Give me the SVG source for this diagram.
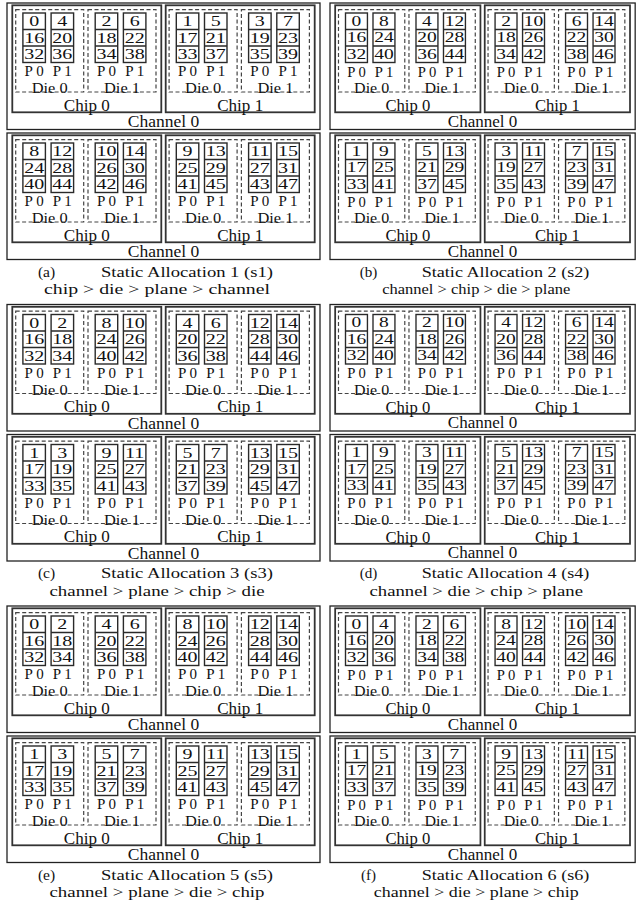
<svg xmlns="http://www.w3.org/2000/svg" width="637" height="907" viewBox="0 0 637 907">
<style>
text{font-family:"Liberation Serif","Times New Roman",serif;text-anchor:middle;dominant-baseline:central;fill:#111;font-size:16px}
.n text{font-size:14.8px}
.p{font-size:15px}
.d{font-size:15px}
.c{font-size:16px}
.h{font-size:17.5px}
.cap{font-size:15.5px}
.chan{fill:none;stroke:#222;stroke-width:1.3}
.chip{fill:none;stroke:#333;stroke-width:1.8}
.die{fill:none;stroke:#444;stroke-width:1.2;stroke-dasharray:4 2.5}
.cell{fill:none;stroke:#2a2a2a;stroke-width:1.4}
</style>
<defs>
<g id="pl" class="cell"><rect width="22.5" height="49.5"/><path d="M0 16.5h22.5M0 33h22.5"/></g>
<rect id="db" class="die" width="68" height="82.4"/>
<rect id="cb" class="chip" width="149" height="107"/>
</defs>

<g id="panel-a" transform="translate(7,3)">
<g id="a-ch1"><rect class="chan" width="313" height="126.5"/>
<g id="a1-chip0" transform="translate(5.3,2.3)"><use href="#cb"/>
<g id="a1-c0-d0" transform="translate(3.4,4.3)"><use href="#db"/><use href="#pl" x="7.2" y="3.4"/><use href="#pl" x="35.4" y="3.4"/><g class="n" transform="scale(1.35,1)"><text x="13.67" y="11.65">0</text><text x="13.67" y="28.15">16</text><text x="13.67" y="44.65">32</text><text x="34.56" y="11.65">4</text><text x="34.56" y="28.15">20</text><text x="34.56" y="44.65">36</text></g><text class="p" x="18.45" y="61.9">P 0</text><text class="p" x="46.65" y="61.9">P 1</text><text class="d" x="34" y="78.6" textLength="36" lengthAdjust="spacingAndGlyphs">Die 0</text></g>
<g id="a1-c0-d1" transform="translate(75.7,4.3)"><use href="#db"/><use href="#pl" x="7.2" y="3.4"/><use href="#pl" x="35.4" y="3.4"/><g class="n" transform="scale(1.35,1)"><text x="13.67" y="11.65">2</text><text x="13.67" y="28.15">18</text><text x="13.67" y="44.65">34</text><text x="34.56" y="11.65">6</text><text x="34.56" y="28.15">22</text><text x="34.56" y="44.65">38</text></g><text class="p" x="18.45" y="61.9">P 0</text><text class="p" x="46.65" y="61.9">P 1</text><text class="d" x="34" y="78.6" textLength="36" lengthAdjust="spacingAndGlyphs">Die 1</text></g>
<text class="c" x="74.5" y="100.2" textLength="46" lengthAdjust="spacingAndGlyphs">Chip 0</text></g>
<g id="a1-chip1" transform="translate(158.7,2.3)"><use href="#cb"/>
<g id="a1-c1-d0" transform="translate(3.4,4.3)"><use href="#db"/><use href="#pl" x="7.2" y="3.4"/><use href="#pl" x="35.4" y="3.4"/><g class="n" transform="scale(1.35,1)"><text x="13.67" y="11.65">1</text><text x="13.67" y="28.15">17</text><text x="13.67" y="44.65">33</text><text x="34.56" y="11.65">5</text><text x="34.56" y="28.15">21</text><text x="34.56" y="44.65">37</text></g><text class="p" x="18.45" y="61.9">P 0</text><text class="p" x="46.65" y="61.9">P 1</text><text class="d" x="34" y="78.6" textLength="36" lengthAdjust="spacingAndGlyphs">Die 0</text></g>
<g id="a1-c1-d1" transform="translate(75.7,4.3)"><use href="#db"/><use href="#pl" x="7.2" y="3.4"/><use href="#pl" x="35.4" y="3.4"/><g class="n" transform="scale(1.35,1)"><text x="13.67" y="11.65">3</text><text x="13.67" y="28.15">19</text><text x="13.67" y="44.65">35</text><text x="34.56" y="11.65">7</text><text x="34.56" y="28.15">23</text><text x="34.56" y="44.65">39</text></g><text class="p" x="18.45" y="61.9">P 0</text><text class="p" x="46.65" y="61.9">P 1</text><text class="d" x="34" y="78.6" textLength="36" lengthAdjust="spacingAndGlyphs">Die 1</text></g>
<text class="c" x="74.5" y="100.2" textLength="46" lengthAdjust="spacingAndGlyphs">Chip 1</text></g>
<text class="h" x="156.5" y="118.3">Channel 0</text></g>
<g id="a-ch2" transform="translate(0,130)"><rect class="chan" width="313" height="126.5"/>
<g id="a2-chip0" transform="translate(5.3,2.3)"><use href="#cb"/>
<g id="a2-c0-d0" transform="translate(3.4,4.3)"><use href="#db"/><use href="#pl" x="7.2" y="3.4"/><use href="#pl" x="35.4" y="3.4"/><g class="n" transform="scale(1.35,1)"><text x="13.67" y="11.65">8</text><text x="13.67" y="28.15">24</text><text x="13.67" y="44.65">40</text><text x="34.56" y="11.65">12</text><text x="34.56" y="28.15">28</text><text x="34.56" y="44.65">44</text></g><text class="p" x="18.45" y="61.9">P 0</text><text class="p" x="46.65" y="61.9">P 1</text><text class="d" x="34" y="78.6" textLength="36" lengthAdjust="spacingAndGlyphs">Die 0</text></g>
<g id="a2-c0-d1" transform="translate(75.7,4.3)"><use href="#db"/><use href="#pl" x="7.2" y="3.4"/><use href="#pl" x="35.4" y="3.4"/><g class="n" transform="scale(1.35,1)"><text x="13.67" y="11.65">10</text><text x="13.67" y="28.15">26</text><text x="13.67" y="44.65">42</text><text x="34.56" y="11.65">14</text><text x="34.56" y="28.15">30</text><text x="34.56" y="44.65">46</text></g><text class="p" x="18.45" y="61.9">P 0</text><text class="p" x="46.65" y="61.9">P 1</text><text class="d" x="34" y="78.6" textLength="36" lengthAdjust="spacingAndGlyphs">Die 1</text></g>
<text class="c" x="74.5" y="100.2" textLength="46" lengthAdjust="spacingAndGlyphs">Chip 0</text></g>
<g id="a2-chip1" transform="translate(158.7,2.3)"><use href="#cb"/>
<g id="a2-c1-d0" transform="translate(3.4,4.3)"><use href="#db"/><use href="#pl" x="7.2" y="3.4"/><use href="#pl" x="35.4" y="3.4"/><g class="n" transform="scale(1.35,1)"><text x="13.67" y="11.65">9</text><text x="13.67" y="28.15">25</text><text x="13.67" y="44.65">41</text><text x="34.56" y="11.65">13</text><text x="34.56" y="28.15">29</text><text x="34.56" y="44.65">45</text></g><text class="p" x="18.45" y="61.9">P 0</text><text class="p" x="46.65" y="61.9">P 1</text><text class="d" x="34" y="78.6" textLength="36" lengthAdjust="spacingAndGlyphs">Die 0</text></g>
<g id="a2-c1-d1" transform="translate(75.7,4.3)"><use href="#db"/><use href="#pl" x="7.2" y="3.4"/><use href="#pl" x="35.4" y="3.4"/><g class="n" transform="scale(1.35,1)"><text x="13.67" y="11.65">11</text><text x="13.67" y="28.15">27</text><text x="13.67" y="44.65">43</text><text x="34.56" y="11.65">15</text><text x="34.56" y="28.15">31</text><text x="34.56" y="44.65">47</text></g><text class="p" x="18.45" y="61.9">P 0</text><text class="p" x="46.65" y="61.9">P 1</text><text class="d" x="34" y="78.6" textLength="36" lengthAdjust="spacingAndGlyphs">Die 1</text></g>
<text class="c" x="74.5" y="100.2" textLength="46" lengthAdjust="spacingAndGlyphs">Chip 1</text></g>
<text class="h" x="156.5" y="118.3">Channel 0</text></g>
<text class="cap" x="39.5" y="268.4">(a)</text>
<text class="cap" x="180" y="268.4" textLength="172" lengthAdjust="spacingAndGlyphs">Static Allocation 1 (s1)</text>
<text class="cap" x="150" y="285.6" textLength="226" lengthAdjust="spacingAndGlyphs">chip &gt; die &gt; plane &gt; channel</text>
</g>

<g id="panel-b" transform="translate(330,3) scale(0.975,1)">
<g id="b-ch1"><rect class="chan" width="313" height="126.5"/>
<g id="b1-chip0" transform="translate(5.3,2.3)"><use href="#cb"/>
<g id="b1-c0-d0" transform="translate(3.4,4.3)"><use href="#db"/><use href="#pl" x="7.2" y="3.4"/><use href="#pl" x="35.4" y="3.4"/><g class="n" transform="scale(1.35,1)"><text x="13.67" y="11.65">0</text><text x="13.67" y="28.15">16</text><text x="13.67" y="44.65">32</text><text x="34.56" y="11.65">8</text><text x="34.56" y="28.15">24</text><text x="34.56" y="44.65">40</text></g><text class="p" x="18.45" y="61.9">P 0</text><text class="p" x="46.65" y="61.9">P 1</text><text class="d" x="34" y="78.6" textLength="36" lengthAdjust="spacingAndGlyphs">Die 0</text></g>
<g id="b1-c0-d1" transform="translate(75.7,4.3)"><use href="#db"/><use href="#pl" x="7.2" y="3.4"/><use href="#pl" x="35.4" y="3.4"/><g class="n" transform="scale(1.35,1)"><text x="13.67" y="11.65">4</text><text x="13.67" y="28.15">20</text><text x="13.67" y="44.65">36</text><text x="34.56" y="11.65">12</text><text x="34.56" y="28.15">28</text><text x="34.56" y="44.65">44</text></g><text class="p" x="18.45" y="61.9">P 0</text><text class="p" x="46.65" y="61.9">P 1</text><text class="d" x="34" y="78.6" textLength="36" lengthAdjust="spacingAndGlyphs">Die 1</text></g>
<text class="c" x="74.5" y="100.2" textLength="46" lengthAdjust="spacingAndGlyphs">Chip 0</text></g>
<g id="b1-chip1" transform="translate(158.7,2.3)"><use href="#cb"/>
<g id="b1-c1-d0" transform="translate(3.4,4.3)"><use href="#db"/><use href="#pl" x="7.2" y="3.4"/><use href="#pl" x="35.4" y="3.4"/><g class="n" transform="scale(1.35,1)"><text x="13.67" y="11.65">2</text><text x="13.67" y="28.15">18</text><text x="13.67" y="44.65">34</text><text x="34.56" y="11.65">10</text><text x="34.56" y="28.15">26</text><text x="34.56" y="44.65">42</text></g><text class="p" x="18.45" y="61.9">P 0</text><text class="p" x="46.65" y="61.9">P 1</text><text class="d" x="34" y="78.6" textLength="36" lengthAdjust="spacingAndGlyphs">Die 0</text></g>
<g id="b1-c1-d1" transform="translate(75.7,4.3)"><use href="#db"/><use href="#pl" x="7.2" y="3.4"/><use href="#pl" x="35.4" y="3.4"/><g class="n" transform="scale(1.35,1)"><text x="13.67" y="11.65">6</text><text x="13.67" y="28.15">22</text><text x="13.67" y="44.65">38</text><text x="34.56" y="11.65">14</text><text x="34.56" y="28.15">30</text><text x="34.56" y="44.65">46</text></g><text class="p" x="18.45" y="61.9">P 0</text><text class="p" x="46.65" y="61.9">P 1</text><text class="d" x="34" y="78.6" textLength="36" lengthAdjust="spacingAndGlyphs">Die 1</text></g>
<text class="c" x="74.5" y="100.2" textLength="46" lengthAdjust="spacingAndGlyphs">Chip 1</text></g>
<text class="h" x="156.5" y="118.3">Channel 0</text></g>
<g id="b-ch2" transform="translate(0,130)"><rect class="chan" width="313" height="126.5"/>
<g id="b2-chip0" transform="translate(5.3,2.3)"><use href="#cb"/>
<g id="b2-c0-d0" transform="translate(3.4,4.3)"><use href="#db"/><use href="#pl" x="7.2" y="3.4"/><use href="#pl" x="35.4" y="3.4"/><g class="n" transform="scale(1.35,1)"><text x="13.67" y="11.65">1</text><text x="13.67" y="28.15">17</text><text x="13.67" y="44.65">33</text><text x="34.56" y="11.65">9</text><text x="34.56" y="28.15">25</text><text x="34.56" y="44.65">41</text></g><text class="p" x="18.45" y="61.9">P 0</text><text class="p" x="46.65" y="61.9">P 1</text><text class="d" x="34" y="78.6" textLength="36" lengthAdjust="spacingAndGlyphs">Die 0</text></g>
<g id="b2-c0-d1" transform="translate(75.7,4.3)"><use href="#db"/><use href="#pl" x="7.2" y="3.4"/><use href="#pl" x="35.4" y="3.4"/><g class="n" transform="scale(1.35,1)"><text x="13.67" y="11.65">5</text><text x="13.67" y="28.15">21</text><text x="13.67" y="44.65">37</text><text x="34.56" y="11.65">13</text><text x="34.56" y="28.15">29</text><text x="34.56" y="44.65">45</text></g><text class="p" x="18.45" y="61.9">P 0</text><text class="p" x="46.65" y="61.9">P 1</text><text class="d" x="34" y="78.6" textLength="36" lengthAdjust="spacingAndGlyphs">Die 1</text></g>
<text class="c" x="74.5" y="100.2" textLength="46" lengthAdjust="spacingAndGlyphs">Chip 0</text></g>
<g id="b2-chip1" transform="translate(158.7,2.3)"><use href="#cb"/>
<g id="b2-c1-d0" transform="translate(3.4,4.3)"><use href="#db"/><use href="#pl" x="7.2" y="3.4"/><use href="#pl" x="35.4" y="3.4"/><g class="n" transform="scale(1.35,1)"><text x="13.67" y="11.65">3</text><text x="13.67" y="28.15">19</text><text x="13.67" y="44.65">35</text><text x="34.56" y="11.65">11</text><text x="34.56" y="28.15">27</text><text x="34.56" y="44.65">43</text></g><text class="p" x="18.45" y="61.9">P 0</text><text class="p" x="46.65" y="61.9">P 1</text><text class="d" x="34" y="78.6" textLength="36" lengthAdjust="spacingAndGlyphs">Die 0</text></g>
<g id="b2-c1-d1" transform="translate(75.7,4.3)"><use href="#db"/><use href="#pl" x="7.2" y="3.4"/><use href="#pl" x="35.4" y="3.4"/><g class="n" transform="scale(1.35,1)"><text x="13.67" y="11.65">7</text><text x="13.67" y="28.15">23</text><text x="13.67" y="44.65">39</text><text x="34.56" y="11.65">15</text><text x="34.56" y="28.15">31</text><text x="34.56" y="44.65">47</text></g><text class="p" x="18.45" y="61.9">P 0</text><text class="p" x="46.65" y="61.9">P 1</text><text class="d" x="34" y="78.6" textLength="36" lengthAdjust="spacingAndGlyphs">Die 1</text></g>
<text class="c" x="74.5" y="100.2" textLength="46" lengthAdjust="spacingAndGlyphs">Chip 1</text></g>
<text class="h" x="156.5" y="118.3">Channel 0</text></g>
<text class="cap" x="39.5" y="268.4">(b)</text>
<text class="cap" x="180" y="268.4" textLength="172" lengthAdjust="spacingAndGlyphs">Static Allocation 2 (s2)</text>
<text class="cap" x="150" y="285.6" textLength="193" lengthAdjust="spacingAndGlyphs">channel &gt; chip &gt; die &gt; plane</text>
</g>

<g id="panel-c" transform="translate(7,304.5)">
<g id="c-ch1"><rect class="chan" width="313" height="126.5"/>
<g id="c1-chip0" transform="translate(5.3,2.3)"><use href="#cb"/>
<g id="c1-c0-d0" transform="translate(3.4,4.3)"><use href="#db"/><use href="#pl" x="7.2" y="3.4"/><use href="#pl" x="35.4" y="3.4"/><g class="n" transform="scale(1.35,1)"><text x="13.67" y="11.65">0</text><text x="13.67" y="28.15">16</text><text x="13.67" y="44.65">32</text><text x="34.56" y="11.65">2</text><text x="34.56" y="28.15">18</text><text x="34.56" y="44.65">34</text></g><text class="p" x="18.45" y="61.9">P 0</text><text class="p" x="46.65" y="61.9">P 1</text><text class="d" x="34" y="78.6" textLength="36" lengthAdjust="spacingAndGlyphs">Die 0</text></g>
<g id="c1-c0-d1" transform="translate(75.7,4.3)"><use href="#db"/><use href="#pl" x="7.2" y="3.4"/><use href="#pl" x="35.4" y="3.4"/><g class="n" transform="scale(1.35,1)"><text x="13.67" y="11.65">8</text><text x="13.67" y="28.15">24</text><text x="13.67" y="44.65">40</text><text x="34.56" y="11.65">10</text><text x="34.56" y="28.15">26</text><text x="34.56" y="44.65">42</text></g><text class="p" x="18.45" y="61.9">P 0</text><text class="p" x="46.65" y="61.9">P 1</text><text class="d" x="34" y="78.6" textLength="36" lengthAdjust="spacingAndGlyphs">Die 1</text></g>
<text class="c" x="74.5" y="100.2" textLength="46" lengthAdjust="spacingAndGlyphs">Chip 0</text></g>
<g id="c1-chip1" transform="translate(158.7,2.3)"><use href="#cb"/>
<g id="c1-c1-d0" transform="translate(3.4,4.3)"><use href="#db"/><use href="#pl" x="7.2" y="3.4"/><use href="#pl" x="35.4" y="3.4"/><g class="n" transform="scale(1.35,1)"><text x="13.67" y="11.65">4</text><text x="13.67" y="28.15">20</text><text x="13.67" y="44.65">36</text><text x="34.56" y="11.65">6</text><text x="34.56" y="28.15">22</text><text x="34.56" y="44.65">38</text></g><text class="p" x="18.45" y="61.9">P 0</text><text class="p" x="46.65" y="61.9">P 1</text><text class="d" x="34" y="78.6" textLength="36" lengthAdjust="spacingAndGlyphs">Die 0</text></g>
<g id="c1-c1-d1" transform="translate(75.7,4.3)"><use href="#db"/><use href="#pl" x="7.2" y="3.4"/><use href="#pl" x="35.4" y="3.4"/><g class="n" transform="scale(1.35,1)"><text x="13.67" y="11.65">12</text><text x="13.67" y="28.15">28</text><text x="13.67" y="44.65">44</text><text x="34.56" y="11.65">14</text><text x="34.56" y="28.15">30</text><text x="34.56" y="44.65">46</text></g><text class="p" x="18.45" y="61.9">P 0</text><text class="p" x="46.65" y="61.9">P 1</text><text class="d" x="34" y="78.6" textLength="36" lengthAdjust="spacingAndGlyphs">Die 1</text></g>
<text class="c" x="74.5" y="100.2" textLength="46" lengthAdjust="spacingAndGlyphs">Chip 1</text></g>
<text class="h" x="156.5" y="118.3">Channel 0</text></g>
<g id="c-ch2" transform="translate(0,130)"><rect class="chan" width="313" height="126.5"/>
<g id="c2-chip0" transform="translate(5.3,2.3)"><use href="#cb"/>
<g id="c2-c0-d0" transform="translate(3.4,4.3)"><use href="#db"/><use href="#pl" x="7.2" y="3.4"/><use href="#pl" x="35.4" y="3.4"/><g class="n" transform="scale(1.35,1)"><text x="13.67" y="11.65">1</text><text x="13.67" y="28.15">17</text><text x="13.67" y="44.65">33</text><text x="34.56" y="11.65">3</text><text x="34.56" y="28.15">19</text><text x="34.56" y="44.65">35</text></g><text class="p" x="18.45" y="61.9">P 0</text><text class="p" x="46.65" y="61.9">P 1</text><text class="d" x="34" y="78.6" textLength="36" lengthAdjust="spacingAndGlyphs">Die 0</text></g>
<g id="c2-c0-d1" transform="translate(75.7,4.3)"><use href="#db"/><use href="#pl" x="7.2" y="3.4"/><use href="#pl" x="35.4" y="3.4"/><g class="n" transform="scale(1.35,1)"><text x="13.67" y="11.65">9</text><text x="13.67" y="28.15">25</text><text x="13.67" y="44.65">41</text><text x="34.56" y="11.65">11</text><text x="34.56" y="28.15">27</text><text x="34.56" y="44.65">43</text></g><text class="p" x="18.45" y="61.9">P 0</text><text class="p" x="46.65" y="61.9">P 1</text><text class="d" x="34" y="78.6" textLength="36" lengthAdjust="spacingAndGlyphs">Die 1</text></g>
<text class="c" x="74.5" y="100.2" textLength="46" lengthAdjust="spacingAndGlyphs">Chip 0</text></g>
<g id="c2-chip1" transform="translate(158.7,2.3)"><use href="#cb"/>
<g id="c2-c1-d0" transform="translate(3.4,4.3)"><use href="#db"/><use href="#pl" x="7.2" y="3.4"/><use href="#pl" x="35.4" y="3.4"/><g class="n" transform="scale(1.35,1)"><text x="13.67" y="11.65">5</text><text x="13.67" y="28.15">21</text><text x="13.67" y="44.65">37</text><text x="34.56" y="11.65">7</text><text x="34.56" y="28.15">23</text><text x="34.56" y="44.65">39</text></g><text class="p" x="18.45" y="61.9">P 0</text><text class="p" x="46.65" y="61.9">P 1</text><text class="d" x="34" y="78.6" textLength="36" lengthAdjust="spacingAndGlyphs">Die 0</text></g>
<g id="c2-c1-d1" transform="translate(75.7,4.3)"><use href="#db"/><use href="#pl" x="7.2" y="3.4"/><use href="#pl" x="35.4" y="3.4"/><g class="n" transform="scale(1.35,1)"><text x="13.67" y="11.65">13</text><text x="13.67" y="28.15">29</text><text x="13.67" y="44.65">45</text><text x="34.56" y="11.65">15</text><text x="34.56" y="28.15">31</text><text x="34.56" y="44.65">47</text></g><text class="p" x="18.45" y="61.9">P 0</text><text class="p" x="46.65" y="61.9">P 1</text><text class="d" x="34" y="78.6" textLength="36" lengthAdjust="spacingAndGlyphs">Die 1</text></g>
<text class="c" x="74.5" y="100.2" textLength="46" lengthAdjust="spacingAndGlyphs">Chip 1</text></g>
<text class="h" x="156.5" y="118.3">Channel 0</text></g>
<text class="cap" x="39.5" y="268.4">(c)</text>
<text class="cap" x="180" y="268.4" textLength="172" lengthAdjust="spacingAndGlyphs">Static Allocation 3 (s3)</text>
<text class="cap" x="150" y="285.6" textLength="215" lengthAdjust="spacingAndGlyphs">channel &gt; plane &gt; chip &gt; die</text>
</g>

<g id="panel-d" transform="translate(330,304.5) scale(0.975,1)">
<g id="d-ch1"><rect class="chan" width="313" height="126.5"/>
<g id="d1-chip0" transform="translate(5.3,2.3)"><use href="#cb"/>
<g id="d1-c0-d0" transform="translate(3.4,4.3)"><use href="#db"/><use href="#pl" x="7.2" y="3.4"/><use href="#pl" x="35.4" y="3.4"/><g class="n" transform="scale(1.35,1)"><text x="13.67" y="11.65">0</text><text x="13.67" y="28.15">16</text><text x="13.67" y="44.65">32</text><text x="34.56" y="11.65">8</text><text x="34.56" y="28.15">24</text><text x="34.56" y="44.65">40</text></g><text class="p" x="18.45" y="61.9">P 0</text><text class="p" x="46.65" y="61.9">P 1</text><text class="d" x="34" y="78.6" textLength="36" lengthAdjust="spacingAndGlyphs">Die 0</text></g>
<g id="d1-c0-d1" transform="translate(75.7,4.3)"><use href="#db"/><use href="#pl" x="7.2" y="3.4"/><use href="#pl" x="35.4" y="3.4"/><g class="n" transform="scale(1.35,1)"><text x="13.67" y="11.65">2</text><text x="13.67" y="28.15">18</text><text x="13.67" y="44.65">34</text><text x="34.56" y="11.65">10</text><text x="34.56" y="28.15">26</text><text x="34.56" y="44.65">42</text></g><text class="p" x="18.45" y="61.9">P 0</text><text class="p" x="46.65" y="61.9">P 1</text><text class="d" x="34" y="78.6" textLength="36" lengthAdjust="spacingAndGlyphs">Die 1</text></g>
<text class="c" x="74.5" y="100.2" textLength="46" lengthAdjust="spacingAndGlyphs">Chip 0</text></g>
<g id="d1-chip1" transform="translate(158.7,2.3)"><use href="#cb"/>
<g id="d1-c1-d0" transform="translate(3.4,4.3)"><use href="#db"/><use href="#pl" x="7.2" y="3.4"/><use href="#pl" x="35.4" y="3.4"/><g class="n" transform="scale(1.35,1)"><text x="13.67" y="11.65">4</text><text x="13.67" y="28.15">20</text><text x="13.67" y="44.65">36</text><text x="34.56" y="11.65">12</text><text x="34.56" y="28.15">28</text><text x="34.56" y="44.65">44</text></g><text class="p" x="18.45" y="61.9">P 0</text><text class="p" x="46.65" y="61.9">P 1</text><text class="d" x="34" y="78.6" textLength="36" lengthAdjust="spacingAndGlyphs">Die 0</text></g>
<g id="d1-c1-d1" transform="translate(75.7,4.3)"><use href="#db"/><use href="#pl" x="7.2" y="3.4"/><use href="#pl" x="35.4" y="3.4"/><g class="n" transform="scale(1.35,1)"><text x="13.67" y="11.65">6</text><text x="13.67" y="28.15">22</text><text x="13.67" y="44.65">38</text><text x="34.56" y="11.65">14</text><text x="34.56" y="28.15">30</text><text x="34.56" y="44.65">46</text></g><text class="p" x="18.45" y="61.9">P 0</text><text class="p" x="46.65" y="61.9">P 1</text><text class="d" x="34" y="78.6" textLength="36" lengthAdjust="spacingAndGlyphs">Die 1</text></g>
<text class="c" x="74.5" y="100.2" textLength="46" lengthAdjust="spacingAndGlyphs">Chip 1</text></g>
<text class="h" x="156.5" y="118.3">Channel 0</text></g>
<g id="d-ch2" transform="translate(0,130)"><rect class="chan" width="313" height="126.5"/>
<g id="d2-chip0" transform="translate(5.3,2.3)"><use href="#cb"/>
<g id="d2-c0-d0" transform="translate(3.4,4.3)"><use href="#db"/><use href="#pl" x="7.2" y="3.4"/><use href="#pl" x="35.4" y="3.4"/><g class="n" transform="scale(1.35,1)"><text x="13.67" y="11.65">1</text><text x="13.67" y="28.15">17</text><text x="13.67" y="44.65">33</text><text x="34.56" y="11.65">9</text><text x="34.56" y="28.15">25</text><text x="34.56" y="44.65">41</text></g><text class="p" x="18.45" y="61.9">P 0</text><text class="p" x="46.65" y="61.9">P 1</text><text class="d" x="34" y="78.6" textLength="36" lengthAdjust="spacingAndGlyphs">Die 0</text></g>
<g id="d2-c0-d1" transform="translate(75.7,4.3)"><use href="#db"/><use href="#pl" x="7.2" y="3.4"/><use href="#pl" x="35.4" y="3.4"/><g class="n" transform="scale(1.35,1)"><text x="13.67" y="11.65">3</text><text x="13.67" y="28.15">19</text><text x="13.67" y="44.65">35</text><text x="34.56" y="11.65">11</text><text x="34.56" y="28.15">27</text><text x="34.56" y="44.65">43</text></g><text class="p" x="18.45" y="61.9">P 0</text><text class="p" x="46.65" y="61.9">P 1</text><text class="d" x="34" y="78.6" textLength="36" lengthAdjust="spacingAndGlyphs">Die 1</text></g>
<text class="c" x="74.5" y="100.2" textLength="46" lengthAdjust="spacingAndGlyphs">Chip 0</text></g>
<g id="d2-chip1" transform="translate(158.7,2.3)"><use href="#cb"/>
<g id="d2-c1-d0" transform="translate(3.4,4.3)"><use href="#db"/><use href="#pl" x="7.2" y="3.4"/><use href="#pl" x="35.4" y="3.4"/><g class="n" transform="scale(1.35,1)"><text x="13.67" y="11.65">5</text><text x="13.67" y="28.15">21</text><text x="13.67" y="44.65">37</text><text x="34.56" y="11.65">13</text><text x="34.56" y="28.15">29</text><text x="34.56" y="44.65">45</text></g><text class="p" x="18.45" y="61.9">P 0</text><text class="p" x="46.65" y="61.9">P 1</text><text class="d" x="34" y="78.6" textLength="36" lengthAdjust="spacingAndGlyphs">Die 0</text></g>
<g id="d2-c1-d1" transform="translate(75.7,4.3)"><use href="#db"/><use href="#pl" x="7.2" y="3.4"/><use href="#pl" x="35.4" y="3.4"/><g class="n" transform="scale(1.35,1)"><text x="13.67" y="11.65">7</text><text x="13.67" y="28.15">23</text><text x="13.67" y="44.65">39</text><text x="34.56" y="11.65">15</text><text x="34.56" y="28.15">31</text><text x="34.56" y="44.65">47</text></g><text class="p" x="18.45" y="61.9">P 0</text><text class="p" x="46.65" y="61.9">P 1</text><text class="d" x="34" y="78.6" textLength="36" lengthAdjust="spacingAndGlyphs">Die 1</text></g>
<text class="c" x="74.5" y="100.2" textLength="46" lengthAdjust="spacingAndGlyphs">Chip 1</text></g>
<text class="h" x="156.5" y="118.3">Channel 0</text></g>
<text class="cap" x="39.5" y="268.4">(d)</text>
<text class="cap" x="180" y="268.4" textLength="172" lengthAdjust="spacingAndGlyphs">Static Allocation 4 (s4)</text>
<text class="cap" x="150" y="285.6" textLength="219" lengthAdjust="spacingAndGlyphs">channel &gt; die &gt; chip &gt; plane</text>
</g>

<g id="panel-e" transform="translate(7,606)">
<g id="e-ch1"><rect class="chan" width="313" height="126.5"/>
<g id="e1-chip0" transform="translate(5.3,2.3)"><use href="#cb"/>
<g id="e1-c0-d0" transform="translate(3.4,4.3)"><use href="#db"/><use href="#pl" x="7.2" y="3.4"/><use href="#pl" x="35.4" y="3.4"/><g class="n" transform="scale(1.35,1)"><text x="13.67" y="11.65">0</text><text x="13.67" y="28.15">16</text><text x="13.67" y="44.65">32</text><text x="34.56" y="11.65">2</text><text x="34.56" y="28.15">18</text><text x="34.56" y="44.65">34</text></g><text class="p" x="18.45" y="61.9">P 0</text><text class="p" x="46.65" y="61.9">P 1</text><text class="d" x="34" y="78.6" textLength="36" lengthAdjust="spacingAndGlyphs">Die 0</text></g>
<g id="e1-c0-d1" transform="translate(75.7,4.3)"><use href="#db"/><use href="#pl" x="7.2" y="3.4"/><use href="#pl" x="35.4" y="3.4"/><g class="n" transform="scale(1.35,1)"><text x="13.67" y="11.65">4</text><text x="13.67" y="28.15">20</text><text x="13.67" y="44.65">36</text><text x="34.56" y="11.65">6</text><text x="34.56" y="28.15">22</text><text x="34.56" y="44.65">38</text></g><text class="p" x="18.45" y="61.9">P 0</text><text class="p" x="46.65" y="61.9">P 1</text><text class="d" x="34" y="78.6" textLength="36" lengthAdjust="spacingAndGlyphs">Die 1</text></g>
<text class="c" x="74.5" y="100.2" textLength="46" lengthAdjust="spacingAndGlyphs">Chip 0</text></g>
<g id="e1-chip1" transform="translate(158.7,2.3)"><use href="#cb"/>
<g id="e1-c1-d0" transform="translate(3.4,4.3)"><use href="#db"/><use href="#pl" x="7.2" y="3.4"/><use href="#pl" x="35.4" y="3.4"/><g class="n" transform="scale(1.35,1)"><text x="13.67" y="11.65">8</text><text x="13.67" y="28.15">24</text><text x="13.67" y="44.65">40</text><text x="34.56" y="11.65">10</text><text x="34.56" y="28.15">26</text><text x="34.56" y="44.65">42</text></g><text class="p" x="18.45" y="61.9">P 0</text><text class="p" x="46.65" y="61.9">P 1</text><text class="d" x="34" y="78.6" textLength="36" lengthAdjust="spacingAndGlyphs">Die 0</text></g>
<g id="e1-c1-d1" transform="translate(75.7,4.3)"><use href="#db"/><use href="#pl" x="7.2" y="3.4"/><use href="#pl" x="35.4" y="3.4"/><g class="n" transform="scale(1.35,1)"><text x="13.67" y="11.65">12</text><text x="13.67" y="28.15">28</text><text x="13.67" y="44.65">44</text><text x="34.56" y="11.65">14</text><text x="34.56" y="28.15">30</text><text x="34.56" y="44.65">46</text></g><text class="p" x="18.45" y="61.9">P 0</text><text class="p" x="46.65" y="61.9">P 1</text><text class="d" x="34" y="78.6" textLength="36" lengthAdjust="spacingAndGlyphs">Die 1</text></g>
<text class="c" x="74.5" y="100.2" textLength="46" lengthAdjust="spacingAndGlyphs">Chip 1</text></g>
<text class="h" x="156.5" y="118.3">Channel 0</text></g>
<g id="e-ch2" transform="translate(0,130)"><rect class="chan" width="313" height="126.5"/>
<g id="e2-chip0" transform="translate(5.3,2.3)"><use href="#cb"/>
<g id="e2-c0-d0" transform="translate(3.4,4.3)"><use href="#db"/><use href="#pl" x="7.2" y="3.4"/><use href="#pl" x="35.4" y="3.4"/><g class="n" transform="scale(1.35,1)"><text x="13.67" y="11.65">1</text><text x="13.67" y="28.15">17</text><text x="13.67" y="44.65">33</text><text x="34.56" y="11.65">3</text><text x="34.56" y="28.15">19</text><text x="34.56" y="44.65">35</text></g><text class="p" x="18.45" y="61.9">P 0</text><text class="p" x="46.65" y="61.9">P 1</text><text class="d" x="34" y="78.6" textLength="36" lengthAdjust="spacingAndGlyphs">Die 0</text></g>
<g id="e2-c0-d1" transform="translate(75.7,4.3)"><use href="#db"/><use href="#pl" x="7.2" y="3.4"/><use href="#pl" x="35.4" y="3.4"/><g class="n" transform="scale(1.35,1)"><text x="13.67" y="11.65">5</text><text x="13.67" y="28.15">21</text><text x="13.67" y="44.65">37</text><text x="34.56" y="11.65">7</text><text x="34.56" y="28.15">23</text><text x="34.56" y="44.65">39</text></g><text class="p" x="18.45" y="61.9">P 0</text><text class="p" x="46.65" y="61.9">P 1</text><text class="d" x="34" y="78.6" textLength="36" lengthAdjust="spacingAndGlyphs">Die 1</text></g>
<text class="c" x="74.5" y="100.2" textLength="46" lengthAdjust="spacingAndGlyphs">Chip 0</text></g>
<g id="e2-chip1" transform="translate(158.7,2.3)"><use href="#cb"/>
<g id="e2-c1-d0" transform="translate(3.4,4.3)"><use href="#db"/><use href="#pl" x="7.2" y="3.4"/><use href="#pl" x="35.4" y="3.4"/><g class="n" transform="scale(1.35,1)"><text x="13.67" y="11.65">9</text><text x="13.67" y="28.15">25</text><text x="13.67" y="44.65">41</text><text x="34.56" y="11.65">11</text><text x="34.56" y="28.15">27</text><text x="34.56" y="44.65">43</text></g><text class="p" x="18.45" y="61.9">P 0</text><text class="p" x="46.65" y="61.9">P 1</text><text class="d" x="34" y="78.6" textLength="36" lengthAdjust="spacingAndGlyphs">Die 0</text></g>
<g id="e2-c1-d1" transform="translate(75.7,4.3)"><use href="#db"/><use href="#pl" x="7.2" y="3.4"/><use href="#pl" x="35.4" y="3.4"/><g class="n" transform="scale(1.35,1)"><text x="13.67" y="11.65">13</text><text x="13.67" y="28.15">29</text><text x="13.67" y="44.65">45</text><text x="34.56" y="11.65">15</text><text x="34.56" y="28.15">31</text><text x="34.56" y="44.65">47</text></g><text class="p" x="18.45" y="61.9">P 0</text><text class="p" x="46.65" y="61.9">P 1</text><text class="d" x="34" y="78.6" textLength="36" lengthAdjust="spacingAndGlyphs">Die 1</text></g>
<text class="c" x="74.5" y="100.2" textLength="46" lengthAdjust="spacingAndGlyphs">Chip 1</text></g>
<text class="h" x="156.5" y="118.3">Channel 0</text></g>
<text class="cap" x="39.5" y="268.4">(e)</text>
<text class="cap" x="180" y="268.4" textLength="172" lengthAdjust="spacingAndGlyphs">Static Allocation 5 (s5)</text>
<text class="cap" x="150" y="285.6" textLength="215" lengthAdjust="spacingAndGlyphs">channel &gt; plane &gt; die &gt; chip</text>
</g>

<g id="panel-f" transform="translate(330,606) scale(0.975,1)">
<g id="f-ch1"><rect class="chan" width="313" height="126.5"/>
<g id="f1-chip0" transform="translate(5.3,2.3)"><use href="#cb"/>
<g id="f1-c0-d0" transform="translate(3.4,4.3)"><use href="#db"/><use href="#pl" x="7.2" y="3.4"/><use href="#pl" x="35.4" y="3.4"/><g class="n" transform="scale(1.35,1)"><text x="13.67" y="11.65">0</text><text x="13.67" y="28.15">16</text><text x="13.67" y="44.65">32</text><text x="34.56" y="11.65">4</text><text x="34.56" y="28.15">20</text><text x="34.56" y="44.65">36</text></g><text class="p" x="18.45" y="61.9">P 0</text><text class="p" x="46.65" y="61.9">P 1</text><text class="d" x="34" y="78.6" textLength="36" lengthAdjust="spacingAndGlyphs">Die 0</text></g>
<g id="f1-c0-d1" transform="translate(75.7,4.3)"><use href="#db"/><use href="#pl" x="7.2" y="3.4"/><use href="#pl" x="35.4" y="3.4"/><g class="n" transform="scale(1.35,1)"><text x="13.67" y="11.65">2</text><text x="13.67" y="28.15">18</text><text x="13.67" y="44.65">34</text><text x="34.56" y="11.65">6</text><text x="34.56" y="28.15">22</text><text x="34.56" y="44.65">38</text></g><text class="p" x="18.45" y="61.9">P 0</text><text class="p" x="46.65" y="61.9">P 1</text><text class="d" x="34" y="78.6" textLength="36" lengthAdjust="spacingAndGlyphs">Die 1</text></g>
<text class="c" x="74.5" y="100.2" textLength="46" lengthAdjust="spacingAndGlyphs">Chip 0</text></g>
<g id="f1-chip1" transform="translate(158.7,2.3)"><use href="#cb"/>
<g id="f1-c1-d0" transform="translate(3.4,4.3)"><use href="#db"/><use href="#pl" x="7.2" y="3.4"/><use href="#pl" x="35.4" y="3.4"/><g class="n" transform="scale(1.35,1)"><text x="13.67" y="11.65">8</text><text x="13.67" y="28.15">24</text><text x="13.67" y="44.65">40</text><text x="34.56" y="11.65">12</text><text x="34.56" y="28.15">28</text><text x="34.56" y="44.65">44</text></g><text class="p" x="18.45" y="61.9">P 0</text><text class="p" x="46.65" y="61.9">P 1</text><text class="d" x="34" y="78.6" textLength="36" lengthAdjust="spacingAndGlyphs">Die 0</text></g>
<g id="f1-c1-d1" transform="translate(75.7,4.3)"><use href="#db"/><use href="#pl" x="7.2" y="3.4"/><use href="#pl" x="35.4" y="3.4"/><g class="n" transform="scale(1.35,1)"><text x="13.67" y="11.65">10</text><text x="13.67" y="28.15">26</text><text x="13.67" y="44.65">42</text><text x="34.56" y="11.65">14</text><text x="34.56" y="28.15">30</text><text x="34.56" y="44.65">46</text></g><text class="p" x="18.45" y="61.9">P 0</text><text class="p" x="46.65" y="61.9">P 1</text><text class="d" x="34" y="78.6" textLength="36" lengthAdjust="spacingAndGlyphs">Die 1</text></g>
<text class="c" x="74.5" y="100.2" textLength="46" lengthAdjust="spacingAndGlyphs">Chip 1</text></g>
<text class="h" x="156.5" y="118.3">Channel 0</text></g>
<g id="f-ch2" transform="translate(0,130)"><rect class="chan" width="313" height="126.5"/>
<g id="f2-chip0" transform="translate(5.3,2.3)"><use href="#cb"/>
<g id="f2-c0-d0" transform="translate(3.4,4.3)"><use href="#db"/><use href="#pl" x="7.2" y="3.4"/><use href="#pl" x="35.4" y="3.4"/><g class="n" transform="scale(1.35,1)"><text x="13.67" y="11.65">1</text><text x="13.67" y="28.15">17</text><text x="13.67" y="44.65">33</text><text x="34.56" y="11.65">5</text><text x="34.56" y="28.15">21</text><text x="34.56" y="44.65">37</text></g><text class="p" x="18.45" y="61.9">P 0</text><text class="p" x="46.65" y="61.9">P 1</text><text class="d" x="34" y="78.6" textLength="36" lengthAdjust="spacingAndGlyphs">Die 0</text></g>
<g id="f2-c0-d1" transform="translate(75.7,4.3)"><use href="#db"/><use href="#pl" x="7.2" y="3.4"/><use href="#pl" x="35.4" y="3.4"/><g class="n" transform="scale(1.35,1)"><text x="13.67" y="11.65">3</text><text x="13.67" y="28.15">19</text><text x="13.67" y="44.65">35</text><text x="34.56" y="11.65">7</text><text x="34.56" y="28.15">23</text><text x="34.56" y="44.65">39</text></g><text class="p" x="18.45" y="61.9">P 0</text><text class="p" x="46.65" y="61.9">P 1</text><text class="d" x="34" y="78.6" textLength="36" lengthAdjust="spacingAndGlyphs">Die 1</text></g>
<text class="c" x="74.5" y="100.2" textLength="46" lengthAdjust="spacingAndGlyphs">Chip 0</text></g>
<g id="f2-chip1" transform="translate(158.7,2.3)"><use href="#cb"/>
<g id="f2-c1-d0" transform="translate(3.4,4.3)"><use href="#db"/><use href="#pl" x="7.2" y="3.4"/><use href="#pl" x="35.4" y="3.4"/><g class="n" transform="scale(1.35,1)"><text x="13.67" y="11.65">9</text><text x="13.67" y="28.15">25</text><text x="13.67" y="44.65">41</text><text x="34.56" y="11.65">13</text><text x="34.56" y="28.15">29</text><text x="34.56" y="44.65">45</text></g><text class="p" x="18.45" y="61.9">P 0</text><text class="p" x="46.65" y="61.9">P 1</text><text class="d" x="34" y="78.6" textLength="36" lengthAdjust="spacingAndGlyphs">Die 0</text></g>
<g id="f2-c1-d1" transform="translate(75.7,4.3)"><use href="#db"/><use href="#pl" x="7.2" y="3.4"/><use href="#pl" x="35.4" y="3.4"/><g class="n" transform="scale(1.35,1)"><text x="13.67" y="11.65">11</text><text x="13.67" y="28.15">27</text><text x="13.67" y="44.65">43</text><text x="34.56" y="11.65">15</text><text x="34.56" y="28.15">31</text><text x="34.56" y="44.65">47</text></g><text class="p" x="18.45" y="61.9">P 0</text><text class="p" x="46.65" y="61.9">P 1</text><text class="d" x="34" y="78.6" textLength="36" lengthAdjust="spacingAndGlyphs">Die 1</text></g>
<text class="c" x="74.5" y="100.2" textLength="46" lengthAdjust="spacingAndGlyphs">Chip 1</text></g>
<text class="h" x="156.5" y="118.3">Channel 0</text></g>
<text class="cap" x="39.5" y="268.4">(f)</text>
<text class="cap" x="180" y="268.4" textLength="172" lengthAdjust="spacingAndGlyphs">Static Allocation 6 (s6)</text>
<text class="cap" x="150" y="285.6" textLength="210" lengthAdjust="spacingAndGlyphs">channel &gt; die &gt; plane &gt; chip</text>
</g>
</svg>
